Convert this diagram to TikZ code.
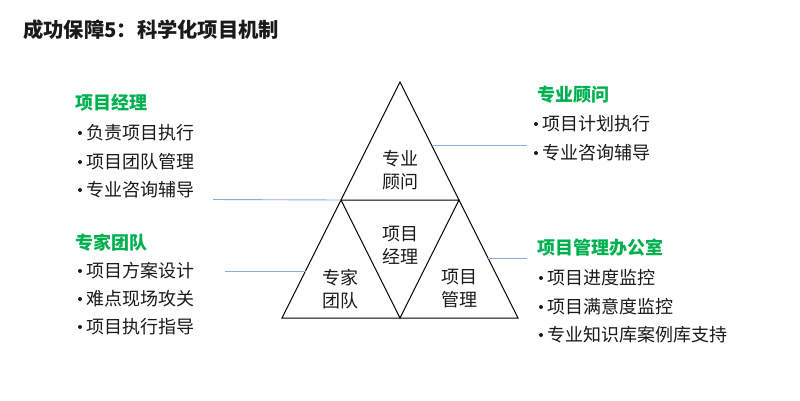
\documentclass[tikz,border=0pt]{standalone}
\usepackage{fontspec}
\setmainfont{Noto Sans CJK SC}
\definecolor{headgreen}{HTML}{00B050}
\definecolor{linkblue}{HTML}{8EAADB}
\definecolor{txt}{HTML}{1A1A1A}
\begin{document}
\begin{tikzpicture}[x=1pt,y=-1pt,
  title/.style={anchor=west,inner sep=0pt,font=\fontsize{20.3}{22}\selectfont\bfseries,text=txt},
  head/.style={anchor=west,inner sep=0pt,font=\fontsize{18}{22}\selectfont\bfseries,text=headgreen},
  item/.style={anchor=west,inner sep=0pt,font=\fontsize{18}{22}\selectfont,text=txt},
  dot/.style={circle,fill=txt,inner sep=0pt,minimum size=4pt},
  tri/.style={draw=black,line width=1pt,line join=miter},
  tlabel/.style={align=center,inner sep=0pt,font=\fontsize{18}{23}\selectfont,text=txt},
  link/.style={draw=linkblue,line width=0.9pt}]
\useasboundingbox (0,0) rectangle (800,400);
\fill[white] (0,0) rectangle (800,400);
% title
\node[title] (title) at (23,30) {成功保障5：科学化项目机制};
% triangle vertices
\coordinate (apex) at (400,82);
\coordinate (bl) at (282,318);
\coordinate (br) at (518,318);
\coordinate (ml) at (341,200);
\coordinate (mr) at (459,200);
\coordinate (bm) at (400,318);
\draw[tri] (apex) -- (br) -- (bl) -- cycle;
\draw[tri] (ml) -- (mr) -- (bm) -- cycle;
% triangle labels
\node[tlabel] (gw) at (400,170) {专业\\顾问};
\node[tlabel] (jl) at (400,245) {项目\\经理};
\node[tlabel] (zj) at (340,289) {专家\\团队};
\node[tlabel] (gl) at (459,289) {项目\\管理};
% connector lines
\coordinate (l1) at (213,199.5);
\coordinate (l2a) at (225,271);
\coordinate (l2b) at (305.5,271);
\coordinate (r1a) at (431.5,145);
\coordinate (r1b) at (527,145);
\coordinate (r2a) at (488,258);
\coordinate (r2b) at (527,258);
\draw[link] (l1) -- (ml);
\draw[link] (l2a) -- (l2b);
\draw[link] (r1a) -- (r1b);
\draw[link] (r2a) -- (r2b);
% left upper group
\node[head] (h1) at (75,103) {项目经理};
\node[dot] (d11) at (80,133) {};
\node[item] (i11) at (86,133) {负责项目执行};
\node[dot] (d12) at (80,162) {};
\node[item] (i12) at (86,162) {项目团队管理};
\node[dot] (d13) at (80,190) {};
\node[item] (i13) at (86,190) {专业咨询辅导};
% left lower group
\node[head] (h2) at (75,243) {专家团队};
\node[dot] (d21) at (80,271) {};
\node[item] (i21) at (86,271) {项目方案设计};
\node[dot] (d22) at (80,299) {};
\node[item] (i22) at (86,299) {难点现场攻关};
\node[dot] (d23) at (80,327) {};
\node[item] (i23) at (86,327) {项目执行指导};
% right upper group
\node[head] (h3) at (537,95) {专业顾问};
\node[dot] (d31) at (536,124) {};
\node[item] (i31) at (542,124) {项目计划执行};
\node[dot] (d32) at (536,153) {};
\node[item] (i32) at (542,153) {专业咨询辅导};
% right lower group
\node[head] (h4) at (537,248) {项目管理办公室};
\node[dot] (d41) at (541,278) {};
\node[item] (i41) at (547,278) {项目进度监控};
\node[dot] (d42) at (541,307) {};
\node[item] (i42) at (547,307) {项目满意度监控};
\node[dot] (d43) at (541,335) {};
\node[item] (i43) at (547,335) {专业知识库案例库支持};
\end{tikzpicture}
\end{document}
